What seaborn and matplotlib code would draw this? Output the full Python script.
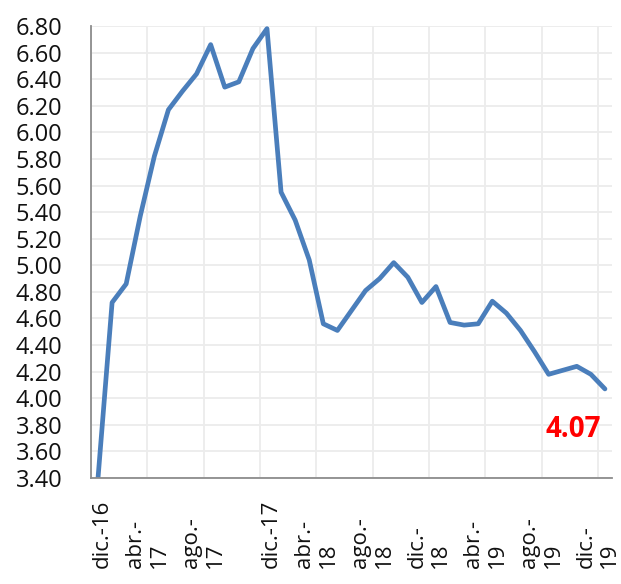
import numpy as np
import pandas as pd
import matplotlib
matplotlib.use("Agg")
import matplotlib.pyplot as plt
import seaborn as sns

# monthly values, dic.-16 .. dic.-19
values = [3.40, 4.72, 4.86, 5.37, 5.82, 6.17, 6.31, 6.44, 6.66, 6.34,
          6.38, 6.63, 6.78, 5.55, 5.34, 5.04, 4.56, 4.51, 4.66, 4.81,
          4.90, 5.02, 4.91, 4.72, 4.84, 4.57, 4.55, 4.56, 4.73, 4.64,
          4.51, 4.35, 4.18, 4.21, 4.24, 4.18, 4.07]
tick_labels = ["\ndic.-16", "abr.-\n17", "ago.-\n17", "\ndic.-17", "abr.-\n18",
               "ago.-\n18", "dic.-\n18", "abr.-\n19", "ago.-\n19", "dic.-\n19"]
y_ticks = np.arange(3.40, 6.81, 0.20)
last_label = "4.07"

df = pd.DataFrame({"pos": np.arange(len(values)), "value": values})

sns.set_theme(style="white")
plt.rcParams["font.family"] = ["Open Sans", "DejaVu Sans"]

fig = plt.figure(figsize=(6.21, 5.84), dpi=100)
ax = fig.add_axes([0.1465, 0.1815, 0.839, 0.774])

sns.lineplot(data=df, x="pos", y="value", ax=ax, color="#4a7ebb", linewidth=3.4)

ax.set_xlim(-0.5, len(values) - 0.5)
ax.set_ylim(3.40, 6.80)

ax.set_yticks(y_ticks)
ax.set_yticklabels([f"{v:.2f}" for v in y_ticks], fontsize=17, color="#111111")
ax.set_xticks(np.arange(-0.5, len(values) - 0.5, 4))
ax.set_xticklabels(tick_labels, fontsize=16, color="#111111", rotation=90,
                   rotation_mode="anchor", ha="left", va="center",
                   multialignment="left", linespacing=1.15)

ax.grid(True, color="#ececec", linewidth=1.3)
ax.set_axisbelow(True)
for side in ["top", "right"]:
    ax.spines[side].set_visible(False)
for side in ["left", "bottom"]:
    ax.spines[side].set_color("#8c8c8c")
    ax.spines[side].set_linewidth(1.3)

ax.tick_params(axis="y", direction="out", length=4.5, width=1.1, color="#8c8c8c", pad=16)
ax.tick_params(axis="x", direction="out", length=5, width=1.1, color="#8c8c8c", pad=60)
ax.set_xlabel("")
ax.set_ylabel("")

ax.annotate(last_label, xy=(df["pos"].iloc[-1], df["value"].iloc[-1]),
            xytext=(-23, -29), textcoords="offset points", ha="center", va="center",
            color="#ff0000", fontsize=20, fontweight="bold")

fig.savefig("out.png", dpi=100)
